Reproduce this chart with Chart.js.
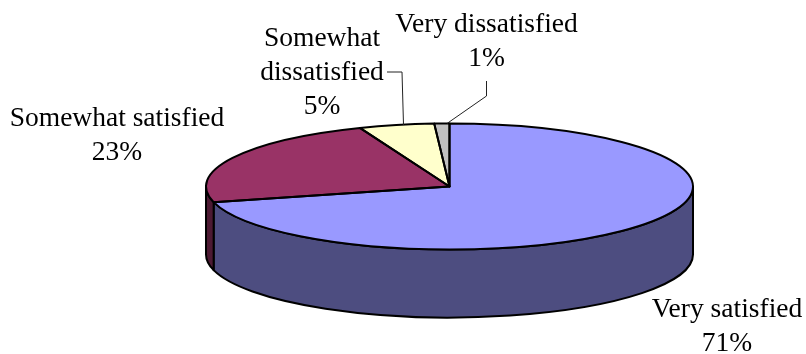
<!DOCTYPE html>
<html>
<head>
<meta charset="utf-8">
<title>Satisfaction</title>
<script src="https://cdn.jsdelivr.net/npm/chart.js@4/dist/chart.umd.min.js"></script>
<style>
    html, body { margin: 0; padding: 0; background: #fff; overflow: hidden; }
    canvas { display: block; }
</style>
</head>
<body>
<canvas id="chart" width="806" height="354"></canvas>
<script>
const categories = ['Very satisfied', 'Somewhat satisfied', 'Somewhat dissatisfied', 'Very dissatisfied'];
const percents = [71, 23, 5, 1];

const topColors = ['#9999ff', '#993366', '#ffffcc', '#c0c0c0'];
const wallColors = ['#4d4d80', '#4d1a33', '#808066', '#606060'];

// Flattened pie: where the top face sits and how thick the wall is
const pieCenterY = 186.5;
const pieRadiusX = 243.5;
const pieRadiusY = 63;
const pieDepth = 68;

// Label blocks, one per slice: text lines are centred on x, y is the first baseline
const labelLines = [['Very satisfied'], ['Somewhat satisfied'], ['Somewhat', 'dissatisfied'], ['Very dissatisfied']];
const labelSpots = [[727, 317], [117, 126], [322, 46], [486.5, 32]];
const leaderLines = [
    null,
    null,
    [[387, 72], [402, 72], [403.5, 125]],
    [[486.5, 81], [486.5, 96], [447, 123.5]]
];

function topFacePath(ctx, arc) {
    ctx.beginPath();
    ctx.moveTo(arc.x, pieCenterY);
    ctx.ellipse(arc.x, pieCenterY, pieRadiusX, pieRadiusY, 0, arc.startAngle, arc.endAngle);
    ctx.closePath();
}

const pie3d = {
    id: 'pie3d',
    beforeDatasetsDraw(chart) {
        const ctx = chart.ctx;
        const arcs = chart.getDatasetMeta(0).data;

        // Only the part of a slice facing the viewer shows a wall
        ctx.save();
        ctx.lineWidth = 2;
        ctx.strokeStyle = '#000';
        ctx.lineJoin = 'round';
        arcs.forEach((arc, i) => {
            const from = Math.max(arc.startAngle, 0);
            const to = Math.min(arc.endAngle, Math.PI);
            if (from >= to) return;
            ctx.beginPath();
            ctx.ellipse(arc.x, pieCenterY, pieRadiusX, pieRadiusY, 0, from, to);
            ctx.ellipse(arc.x, pieCenterY + pieDepth, pieRadiusX, pieRadiusY, 0, to, from, true);
            ctx.closePath();
            ctx.fillStyle = wallColors[i];
            ctx.fill();
            ctx.stroke();
        });
        ctx.restore();

        // Squash the circle the library draws into the top ellipse
        const first = arcs[0];
        ctx.save();
        ctx.translate(0, pieCenterY);
        ctx.scale(1, pieRadiusY / pieRadiusX);
        ctx.translate(0, -first.y);
    },
    afterDatasetsDraw(chart) {
        const ctx = chart.ctx;
        ctx.restore();

        // Outlines go on after the squash so the line width stays even
        const arcs = chart.getDatasetMeta(0).data;
        ctx.save();
        ctx.lineWidth = 2;
        ctx.strokeStyle = '#000';
        ctx.lineJoin = 'round';
        arcs.forEach(arc => {
            topFacePath(ctx, arc);
            ctx.stroke();
        });

        // Leader lines
        ctx.lineWidth = 1;
        ctx.strokeStyle = '#222';
        leaderLines.forEach(points => {
            if (!points) return;
            ctx.beginPath();
            points.forEach((p, i) => i ? ctx.lineTo(p[0], p[1]) : ctx.moveTo(p[0], p[1]));
            ctx.stroke();
        });

        // Labels, with the percent line under the name
        ctx.fillStyle = '#000';
        ctx.font = '27.5px "Liberation Serif"';
        ctx.textAlign = 'center';
        ctx.textBaseline = 'alphabetic';
        labelLines.forEach((lines, i) => {
            const x = labelSpots[i][0];
            let y = labelSpots[i][1];
            lines.concat(percents[i] + '%').forEach(line => {
                ctx.fillText(line, x, y);
                y += 34;
            });
        });
        ctx.restore();
    }
};

new Chart(document.getElementById('chart').getContext('2d'), {
    type: 'pie',
    data: {
        labels: categories,
        datasets: [{
            data: percents,
            backgroundColor: topColors,
            borderWidth: 0,
            clip: false
        }]
    },
    options: {
        responsive: false,
        animation: false,
        radius: pieRadiusX,
        layout: { padding: { left: 93 } },
        plugins: {
            legend: { display: false },
            tooltip: { enabled: false }
        }
    },
    plugins: [pie3d]
});
</script>
</body>
</html>
